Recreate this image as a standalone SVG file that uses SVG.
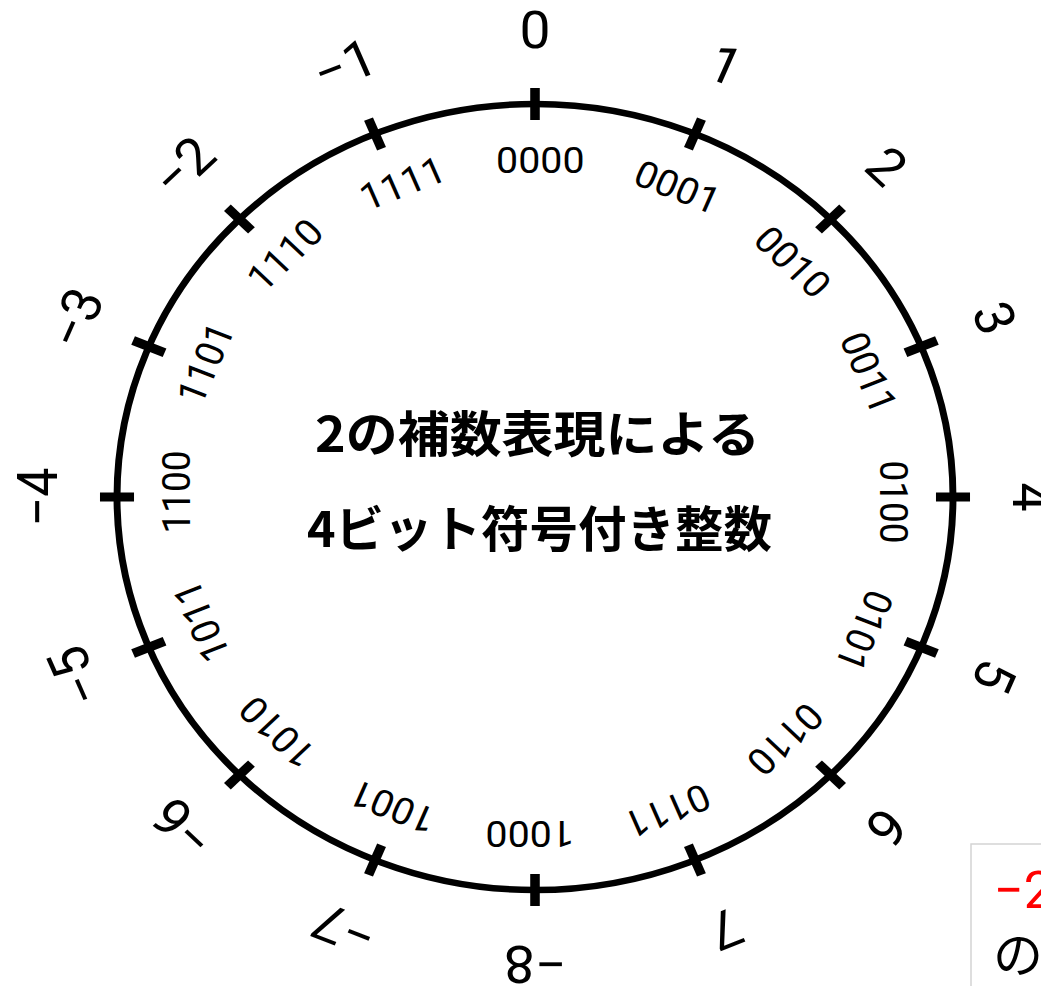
<svg xmlns="http://www.w3.org/2000/svg" width="1041" height="986" viewBox="0 0 1041 986">
  <style>
    .ring { fill: none; stroke: #000; stroke-width: 6.5; }
    .tick { stroke: #000; stroke-width: 9; }
    .outer { font-family: Roboto, 'Liberation Sans', Arial, sans-serif; font-size: 52px; fill: #000; text-anchor: middle; }
    .inner { font-family: Roboto, 'Liberation Sans', Arial, sans-serif; font-size: 37px; fill: #000; text-anchor: middle; }
    .title { font-family: 'Noto Sans CJK JP', sans-serif; font-size: 49px; font-weight: bold; fill: #000; }
    .note { font-family: Roboto, 'Liberation Sans', 'Noto Sans CJK JP', sans-serif; font-size: 52px; }
  </style>
  <defs>
    <line id="tk" class="tick" x1="0" y1="-377" x2="0" y2="-409"/>
  </defs>
  <rect width="1041" height="986" fill="#fff"/>

  <g id="dial" transform="translate(535,497) scale(1.0636,1)">
    <circle id="ring" class="ring" cx="0" cy="0" r="393"/>
    <g id="ticks">
      <use href="#tk" transform="rotate(0)"/>
      <use href="#tk" transform="rotate(22.5)"/>
      <use href="#tk" transform="rotate(45)"/>
      <use href="#tk" transform="rotate(67.5)"/>
      <use href="#tk" transform="rotate(90)"/>
      <use href="#tk" transform="rotate(112.5)"/>
      <use href="#tk" transform="rotate(135)"/>
      <use href="#tk" transform="rotate(157.5)"/>
      <use href="#tk" transform="rotate(180)"/>
      <use href="#tk" transform="rotate(202.5)"/>
      <use href="#tk" transform="rotate(225)"/>
      <use href="#tk" transform="rotate(247.5)"/>
      <use href="#tk" transform="rotate(270)"/>
      <use href="#tk" transform="rotate(292.5)"/>
      <use href="#tk" transform="rotate(315)"/>
      <use href="#tk" transform="rotate(337.5)"/>
    </g>
    <g id="decimal-labels">
      <text class="outer" transform="rotate(0)" x="0" y="-449.5">0</text>
      <text class="outer" transform="rotate(22.5)" x="0" y="-449.5">1</text>
      <text class="outer" transform="rotate(45)" x="0" y="-449.5">2</text>
      <text class="outer" transform="rotate(67.5)" x="0" y="-449.5">3</text>
      <text class="outer" transform="rotate(90)" x="0" y="-449.5">4</text>
      <text class="outer" transform="rotate(112.5)" x="0" y="-449.5">5</text>
      <text class="outer" transform="rotate(135)" x="0" y="-449.5">6</text>
      <text class="outer" transform="rotate(157.5)" x="0" y="-449.5">7</text>
      <text class="outer" transform="rotate(180)" x="0" y="-449.5">−8</text>
      <text class="outer" transform="rotate(202.5)" x="0" y="-449.5">−7</text>
      <text class="outer" transform="rotate(225)" x="0" y="-449.5">−6</text>
      <text class="outer" transform="rotate(247.5)" x="0" y="-449.5">−5</text>
      <text class="outer" transform="rotate(270)" x="0" y="-449.5">−4</text>
      <text class="outer" transform="rotate(292.5)" x="0" y="-449.5">−3</text>
      <text class="outer" transform="rotate(315)" x="0" y="-449.5">−2</text>
      <text class="outer" transform="rotate(337.5)" x="0" y="-449.5">−1</text>
    </g>
    <g id="binary-labels">
      <text class="inner" transform="rotate(0)" x="5" y="-324.5">0000</text>
      <text class="inner" transform="rotate(22.5)" x="5" y="-324.5">0001</text>
      <text class="inner" transform="rotate(45)" x="5" y="-324.5">0010</text>
      <text class="inner" transform="rotate(67.5)" x="5" y="-324.5">0011</text>
      <text class="inner" transform="rotate(90)" x="5" y="-324.5">0100</text>
      <text class="inner" transform="rotate(112.5)" x="5" y="-324.5">0101</text>
      <text class="inner" transform="rotate(135)" x="5" y="-324.5">0110</text>
      <text class="inner" transform="rotate(157.5)" x="5" y="-324.5">0111</text>
      <text class="inner" transform="rotate(180)" x="5" y="-324.5">1000</text>
      <text class="inner" transform="rotate(202.5)" x="5" y="-324.5">1001</text>
      <text class="inner" transform="rotate(225)" x="5" y="-324.5">1010</text>
      <text class="inner" transform="rotate(247.5)" x="5" y="-324.5">1011</text>
      <text class="inner" transform="rotate(270)" x="5" y="-324.5">1100</text>
      <text class="inner" transform="rotate(292.5)" x="5" y="-324.5">1101</text>
      <text class="inner" transform="rotate(315)" x="5" y="-324.5">1110</text>
      <text class="inner" transform="rotate(337.5)" x="5" y="-324.5">1111</text>
    </g>
  </g>

  <g id="title">
    <text class="title" x="315" y="452" textLength="445" lengthAdjust="spacingAndGlyphs">2の補数表現による</text>
    <text class="title" x="307" y="547" textLength="465" lengthAdjust="spacingAndGlyphs">4ビット符号付き整数</text>
  </g>

  <g id="note-box">
    <rect x="973" y="846" width="120" height="200" fill="#e6e6e6"/>
    <rect x="971" y="844" width="120" height="200" fill="#fff" stroke="#d4d4d4" stroke-width="1.5"/>
    <text class="note" x="994" y="908" fill="#ff0000">−2</text>
    <text x="993" y="973" font-family="'Noto Sans CJK JP', sans-serif" font-size="50" fill="#000">の</text>
  </g>
</svg>
